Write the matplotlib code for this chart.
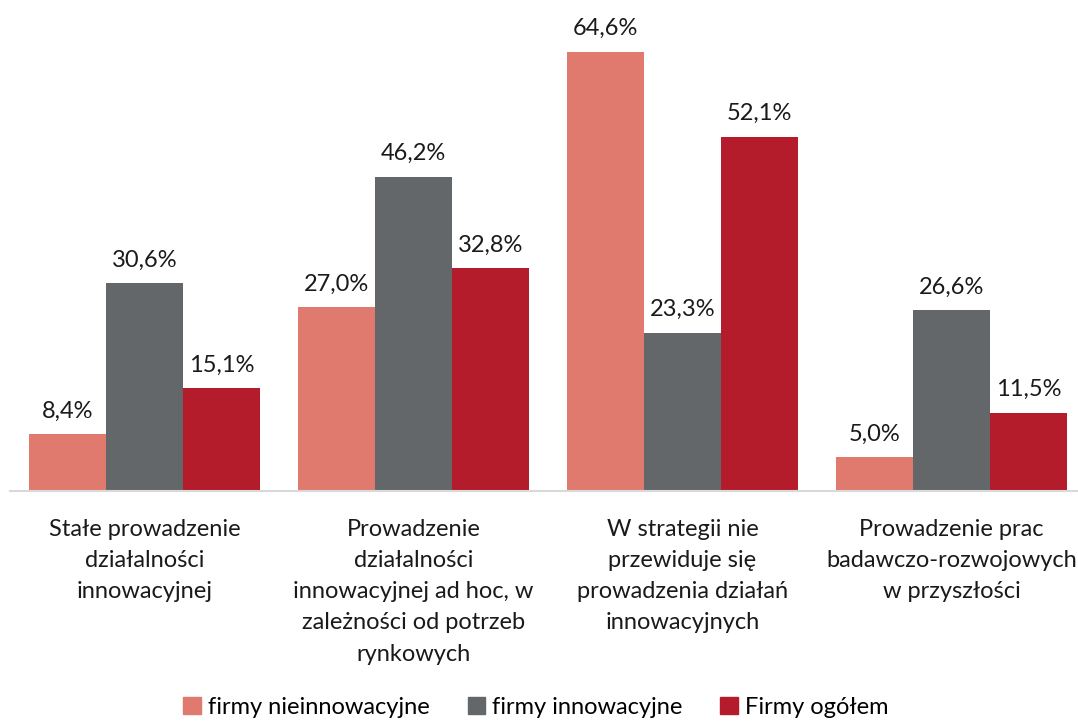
import numpy as np
import matplotlib.pyplot as plt
from matplotlib.patches import Patch

plt.rcParams['font.family'] = ['Lato', 'DejaVu Sans']

categories = [
    "Stałe prowadzenie\ndziałalności\ninnowacyjnej",
    "Prowadzenie\ndziałalności\ninnowacyjnej ad hoc, w\nzależności od potrzeb\nrynkowych",
    "W strategii nie\nprzewiduje się\nprowadzenia działań\ninnowacyjnych",
    "Prowadzenie prac\nbadawczo-rozwojowych\nw przyszłości",
]
series_names = ["firmy nieinnowacyjne", "firmy innowacyjne", "Firmy ogółem"]
nieinnowacyjne = [8.4, 27.0, 64.6, 5.0]
innowacyjne = [30.6, 46.2, 23.3, 26.6]
ogolem = [15.1, 32.8, 52.1, 11.5]
colors = ["#E07A6E", "#63676A", "#B41B2B"]

fig = plt.figure(figsize=(10.78, 7.26), dpi=100)
ax = fig.add_axes([10 / 1078, 235 / 726, 1076 / 1078, 476 / 726])

x = np.arange(len(categories))
w = 77 / 269
for i, vals in enumerate([nieinnowacyjne, innowacyjne, ogolem]):
    bars = ax.bar(x + (i - 1) * w, vals, width=w, color=colors[i], label=series_names[i])
    for b, v in zip(bars, vals):
        ax.annotate(f"{v:.1f}%".replace(".", ","), (b.get_x() + b.get_width() / 2, v),
                    xytext=(0, 9), textcoords="offset points", ha="center", va="bottom",
                    fontsize=17, color="#1a1a1a")

ax.set_xlim(-0.5, 3.5)
ax.set_ylim(0, 70)
ax.set_yticks([])
ax.set_xticks([])
for s in ["top", "right", "left"]:
    ax.spines[s].set_visible(False)
ax.spines["bottom"].set_color("#D9D9D9")
ax.spines["bottom"].set_linewidth(1.5)

for xi, c in zip(x, categories):
    ax.annotate(c, (xi, 0), xytext=(0, -20), textcoords="offset points", ha="center", va="top",
                fontsize=17, color="#1a1a1a", linespacing=1.6, annotation_clip=False)

handles = [Patch(color=c) for c in colors]
fig.legend(handles, series_names, loc="center", bbox_to_anchor=(536 / 1078, 1 - 707 / 726), ncol=3,
           frameon=False, fontsize=17, handlelength=0.75, handleheight=0.75, handletextpad=0.3,
           columnspacing=1.6)

fig.savefig("out.png", dpi=100)
